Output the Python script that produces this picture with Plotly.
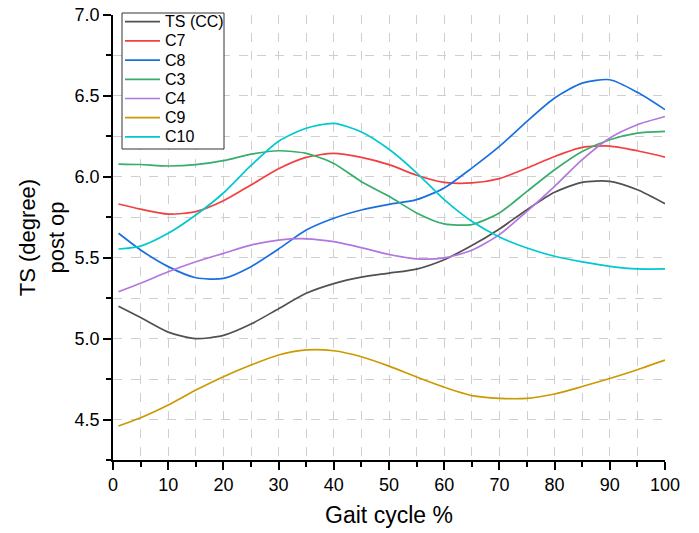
import plotly.graph_objects as go

gait = [1, 5, 10, 15, 20, 25, 30, 35, 40, 45, 50, 55, 60, 65, 70, 75, 80, 85, 90, 95, 100]

ts_cc = [5.20, 5.13, 5.04, 5.00, 5.02, 5.09, 5.185, 5.28, 5.34, 5.38, 5.405, 5.43, 5.488, 5.575, 5.678, 5.797, 5.904, 5.966, 5.972, 5.92, 5.834]
c7 = [5.832, 5.80, 5.77, 5.785, 5.852, 5.95, 6.05, 6.12, 6.145, 6.12, 6.075, 6.01, 5.966, 5.962, 5.989, 6.054, 6.126, 6.182, 6.19, 6.161, 6.122]
c8 = [5.651, 5.548, 5.445, 5.376, 5.372, 5.445, 5.554, 5.671, 5.744, 5.795, 5.83, 5.859, 5.931, 6.054, 6.188, 6.343, 6.487, 6.579, 6.60, 6.522, 6.415]
c3 = [6.079, 6.076, 6.067, 6.075, 6.10, 6.14, 6.161, 6.145, 6.083, 5.97, 5.88, 5.777, 5.709, 5.705, 5.777, 5.91, 6.044, 6.157, 6.229, 6.27, 6.281]
c4 = [5.29, 5.342, 5.413, 5.475, 5.527, 5.578, 5.609, 5.617, 5.599, 5.562, 5.52, 5.493, 5.499, 5.546, 5.643, 5.787, 5.941, 6.106, 6.24, 6.322, 6.373]
c9 = [4.46, 4.511, 4.59, 4.682, 4.765, 4.837, 4.899, 4.93, 4.925, 4.888, 4.83, 4.763, 4.70, 4.648, 4.631, 4.631, 4.658, 4.704, 4.754, 4.808, 4.867]
c10 = [5.554, 5.572, 5.651, 5.764, 5.90, 6.07, 6.22, 6.30, 6.33, 6.277, 6.17, 6.025, 5.859, 5.725, 5.628, 5.56, 5.509, 5.474, 5.447, 5.431, 5.431]

series_names = ["TS (CC)", "C7", "C8", "C3", "C4", "C9", "C10"]
series_values = [ts_cc, c7, c8, c3, c4, c9, c10]
colors = ["#515151", "#F14040", "#1A6FDF", "#37AD6B", "#B177DE", "#CC9900", "#00C8D0"]

x_ticks = list(range(0, 101, 10))
y_ticks = [4.5, 5.0, 5.5, 6.0, 6.5, 7.0]

font_family = "Liberation Sans, Arial, sans-serif"

# plot area in pixels: left 113, right 665, top 15, bottom 460
L, R, T, B = 113, 665, 15, 460
W, H = R - L, B - T


def px_x(p):
    return (p - L) / W


def px_y(p):
    return (B - p) / H


fig = go.Figure()
for name, vals, col in zip(series_names, series_values, colors):
    fig.add_trace(go.Scatter(x=gait, y=vals, name=name, mode="lines", showlegend=False,
                             line=dict(color=col, width=1.7, shape="spline", smoothing=0.7)))

# legend box drawn as layout shapes + text annotations
shapes = [dict(type="rect", xref="paper", yref="paper",
               x0=px_x(122), x1=px_x(224), y0=px_y(149), y1=px_y(13),
               line=dict(color="#333333", width=1), fillcolor="white", layer="above")]
annotations = []
for i, (name, col) in enumerate(zip(series_names, colors)):
    yy = px_y(21.7 + i * 19.2)
    shapes.append(dict(type="line", xref="paper", yref="paper",
                       x0=px_x(125), x1=px_x(160), y0=yy, y1=yy,
                       line=dict(color=col, width=1.7), layer="above"))
    annotations.append(dict(xref="paper", yref="paper", x=px_x(163), y=yy,
                            xanchor="left", yanchor="middle", text=name, showarrow=False,
                            font=dict(size=16, family=font_family, color="black")))

fig.update_layout(
    width=699, height=533,
    margin=dict(l=L, r=699 - R, t=T, b=533 - B),
    paper_bgcolor="white", plot_bgcolor="white",
    font=dict(family=font_family, color="black", size=16),
    showlegend=False,
    shapes=shapes,
    annotations=annotations,
    xaxis=dict(
        range=[0, 100], tickvals=x_ticks, ticktext=[str(v) for v in x_ticks],
        showline=True, linecolor="black", linewidth=1.5, mirror=False,
        ticks="outside", ticklen=8, tickwidth=1.5, tickcolor="black",
        tickfont=dict(size=18), automargin=False,
        showgrid=True, gridcolor="#cfcfcf", griddash="dash", gridwidth=1,
        zeroline=False,
        minor=dict(dtick=5, ticks="outside", ticklen=5, tickwidth=1.5, tickcolor="black",
                   showgrid=True, gridcolor="#cfcfcf", griddash="dash", gridwidth=1),
        title=dict(text="Gait cycle %", font=dict(size=23), standoff=13),
    ),
    yaxis=dict(
        range=[4.25, 7.0], tickvals=y_ticks, ticktext=[f"{v:.1f}" for v in y_ticks],
        showline=True, linecolor="black", linewidth=1.5, mirror=False,
        ticks="outside", ticklen=8, tickwidth=1.5, tickcolor="black",
        tickfont=dict(size=18), automargin=False,
        showgrid=True, gridcolor="#cfcfcf", griddash="dash", gridwidth=1,
        zeroline=False,
        minor=dict(dtick=0.25, tick0=4.25, ticks="outside", ticklen=5, tickwidth=1.5, tickcolor="black",
                   showgrid=True, gridcolor="#cfcfcf", griddash="dash", gridwidth=1),
        title=dict(text="TS (degree)<br>post op", font=dict(size=22), standoff=4),
    ),
)

fig.write_html("out.html")
